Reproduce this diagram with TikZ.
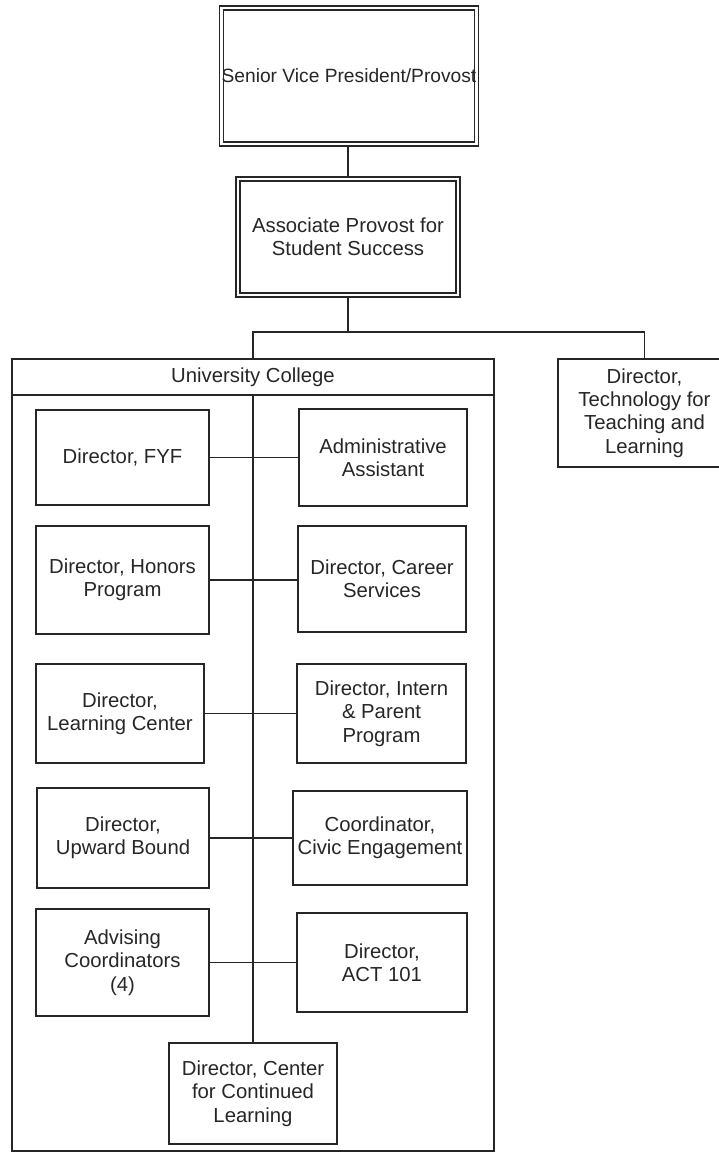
\documentclass[tikz,border=0pt]{standalone}
\usepackage{fontspec}
\setmainfont{Liberation Sans}
\begin{document}
\begin{tikzpicture}[x=1pt,y=-1pt,
  box/.style={draw=black!85, line width=1.5pt, rectangle, align=center, inner sep=0pt, text=black!85, font=\fontsize{20.3}{23.3}\selectfont},
  dbox/.style={box, double, double distance=2.6pt, line width=1.3pt},
  frame/.style={draw=black!85, line width=1.5pt, rectangle, inner sep=0pt},
  link/.style={draw=black!85, line width=1.5pt}]
\useasboundingbox (0,0) rectangle (719,1153);
\clip (0,0) rectangle (719,1153);
% top
\node[dbox, minimum width=254pt, minimum height=136pt, font=\fontsize{19.2}{23}\selectfont] (svp) at (349,76) {Senior Vice President/Provost};
\node[dbox, minimum width=220pt, minimum height=116pt] (asp) at (348,237) {Associate Provost for\\Student Success};
% university college
\node[frame, minimum width=482pt, minimum height=792pt] (uc) at (253,755) {};
\node[box, minimum width=482pt, minimum height=36pt] (uchead) at (253,377) {University College};
\node[box, minimum width=173pt, minimum height=108pt] (tech) at (644.5,413) {Director,\\Technology for\\Teaching and\\Learning};
% inner boxes
\node[box, minimum width=173pt, minimum height=95pt] (fyf) at (122.5,457.5) {Director, FYF};
\node[box, minimum width=168pt, minimum height=97pt] (admin) at (383,457.5) {Administrative\\Assistant};
\node[box, minimum width=173pt, minimum height=108pt] (honors) at (122.5,580) {Director, Honors\\Program};
\node[box, minimum width=168pt, minimum height=106pt] (career) at (382,579) {Director, Career\\Services};
\node[box, minimum width=168pt, minimum height=99pt] (learn) at (120,713.5) {Director,\\Learning Center};
\node[box, minimum width=169pt, minimum height=99pt] (intern) at (381.5,713.5) {Director, Intern\\\& Parent\\Program};
\node[box, minimum width=172pt, minimum height=100pt] (upward) at (123,838) {Director,\\Upward Bound};
\node[box, minimum width=174pt, minimum height=94pt] (civic) at (380,838) {Coordinator,\\Civic Engagement};
\node[box, minimum width=173pt, minimum height=107pt] (advising) at (122.5,962.5) {Advising\\Coordinators\\(4)};
\node[box, minimum width=170pt, minimum height=99pt] (act) at (382,962.5) {Director,\\ACT 101};
\node[box, minimum width=168pt, minimum height=101pt] (cont) at (253,1093.5) {Director, Center\\for Continued\\Learning};
% connectors
\coordinate (j) at (348,332);
\draw[link] (asp.north) -- (asp.north |- svp.south);
\draw[link] (asp.south) -- (j);
\draw[link] (uchead.north) |- (j) -| (tech.north);
\draw[link] (uchead.south) -- (cont.north);
\draw[link] (fyf.east) -- (fyf.east -| admin.west);
\draw[link] (honors.east) -- (honors.east -| career.west);
\draw[link] (learn.east) -- (learn.east -| intern.west);
\draw[link] (upward.east) -- (upward.east -| civic.west);
\draw[link] (advising.east) -- (advising.east -| act.west);
\end{tikzpicture}
\end{document}
